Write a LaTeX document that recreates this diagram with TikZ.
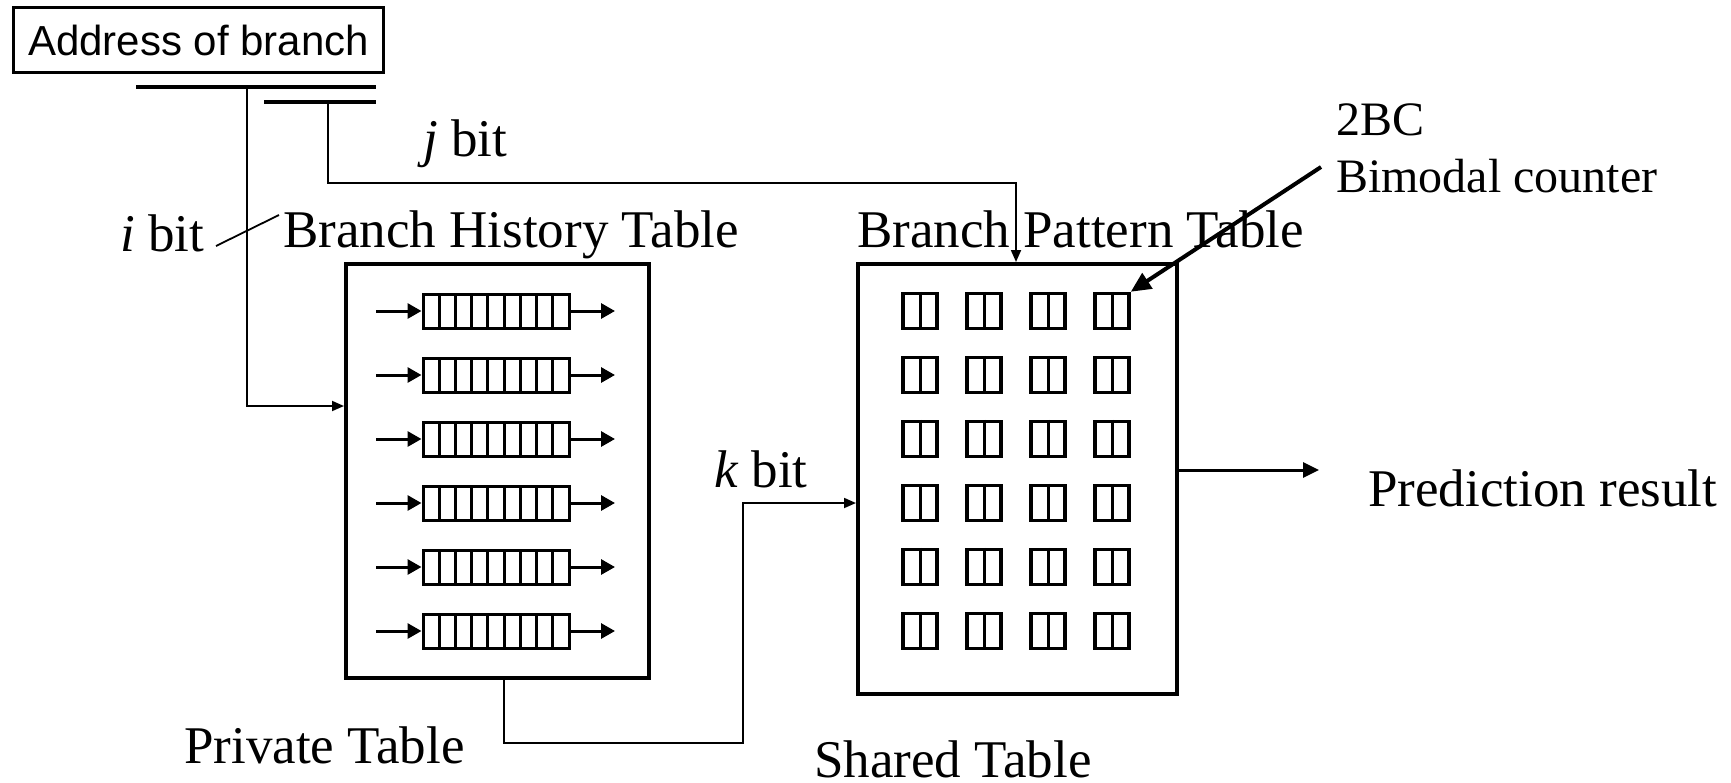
\documentclass[tikz,border=0pt]{standalone}
\usepackage{fontspec}
\setmainfont{Liberation Serif}
\newfontfamily\arialfont{Liberation Sans}
\usetikzlibrary{arrows.meta}
\begin{document}
\begin{tikzpicture}[x=1pt,y=-1pt,
  tbl/.style={draw, line width=3.5pt, inner sep=0pt, anchor=north west},
  thinline/.style={line width=1.8pt},
  thinarrow/.style={line width=1.8pt, -{Triangle[length=12pt,width=10pt]}},
  regarrow/.style={line width=3pt, -{Triangle[length=14pt,width=15pt]}},
  bigarrow/.style={line width=3pt, -{Triangle[length=16pt,width=15pt]}},
  bar/.style={line width=4pt},
  reg/.style={draw, line width=3pt, inner sep=0pt, minimum width=146pt, minimum height=34pt},
  cell/.style={draw, line width=3.5pt, inner sep=0pt, minimum width=34pt, minimum height=35pt},
  lbl/.style={font=\fontsize{53}{60}\selectfont, inner sep=0pt, anchor=base west},
  slbl/.style={font=\fontsize{48}{56}\selectfont, inner sep=0pt, anchor=base west},
  ]
\useasboundingbox (0,0) rectangle (1731,782);

% address box and bars
\node[draw, line width=3.3pt, inner sep=0pt, minimum width=370pt, minimum height=65pt,
      anchor=north west, font=\arialfont\fontsize{42}{48}\selectfont] (addr) at (12,6) {Address of branch};
\coordinate (b1l) at (136,87);  \coordinate (b1r) at (376,87);
\coordinate (b2l) at (264,102); \coordinate (b2r) at (376,102);
\draw[bar] (b1l) -- (b1r);
\draw[bar] (b2l) -- (b2r);
\coordinate (i0) at (247,87);
\coordinate (j0) at (328,102);

% tables
\node[tbl, minimum width=303pt, minimum height=414pt] (bht) at (344,262) {};
\node[tbl, minimum width=319pt, minimum height=430pt] (bpt) at (856,262) {};

% labels
\node[lbl] (bhtl) at (283,247) {Branch History Table};
\node[lbl] (bptl) at (857,247) {Branch Pattern Table};
\node[lbl] (priv) at (184,763) {Private Table};
\node[lbl] (shar) at (814,777) {Shared Table};
\node[lbl] (ibit) at (120,251) {\textit{i} bit};
\node[lbl] (jbit) at (423,156) {\textit{j} bit};
\node[lbl] (kbit) at (714,487) {\textit{k} bit};
\node[lbl] (pred) at (1368,506) {Prediction result};
\node[slbl] (twobc) at (1336,135) {2BC};
\node[slbl] (bimod) at (1336,192) {Bimodal counter};

% shift registers
\foreach \k in {0,...,5}{
  \node[reg] (r\k) at (496,311+64*\k) {};
  \foreach \m in {1,...,8}{
    \draw[line width=3pt] (423+\m*16.22,294+64*\k) -- ++(0,34);
  }
  \coordinate (rin\k) at (376,311+64*\k);
  \coordinate (rout\k) at (615,311+64*\k);
  \draw[regarrow] (rin\k) -- (r\k.west);
  \draw[regarrow] (r\k.east) -- (rout\k);
}

% 2BC cells
\foreach \k in {0,...,5}{
  \foreach \c in {0,...,3}{
    \node[cell] (c-\k-\c) at (920+64*\c,311+64*\k) {};
    \draw[line width=3pt] (c-\k-\c.north) -- (c-\k-\c.south);
  }
}

% connectors
\coordinate (bhtin) at (344,406);
\draw[thinarrow] (i0) |- (bhtin);
\coordinate (bptin) at (1016,262);
\draw[thinarrow] (j0) -- (328,183) -| (bptin);
\coordinate (kout) at (504,676);
\coordinate (kin) at (856,503);
\draw[thinarrow] (kout) -- (504,743) -- (743,743) -- (743,503) -- (kin);
\coordinate (predout) at (1175,470);
\coordinate (predend) at (1319,470);
\draw[bigarrow] (predout) -- (predend);
\coordinate (bcstart) at (1321,167);
\draw[line width=4pt, -{Triangle[length=20pt,width=18pt]}] (bcstart) -- (c-0-3.north east);
\coordinate (ia) at (216,246);
\coordinate (ib) at (279,215);
\draw[thinline] (ia) -- (ib);
\end{tikzpicture}
\end{document}
